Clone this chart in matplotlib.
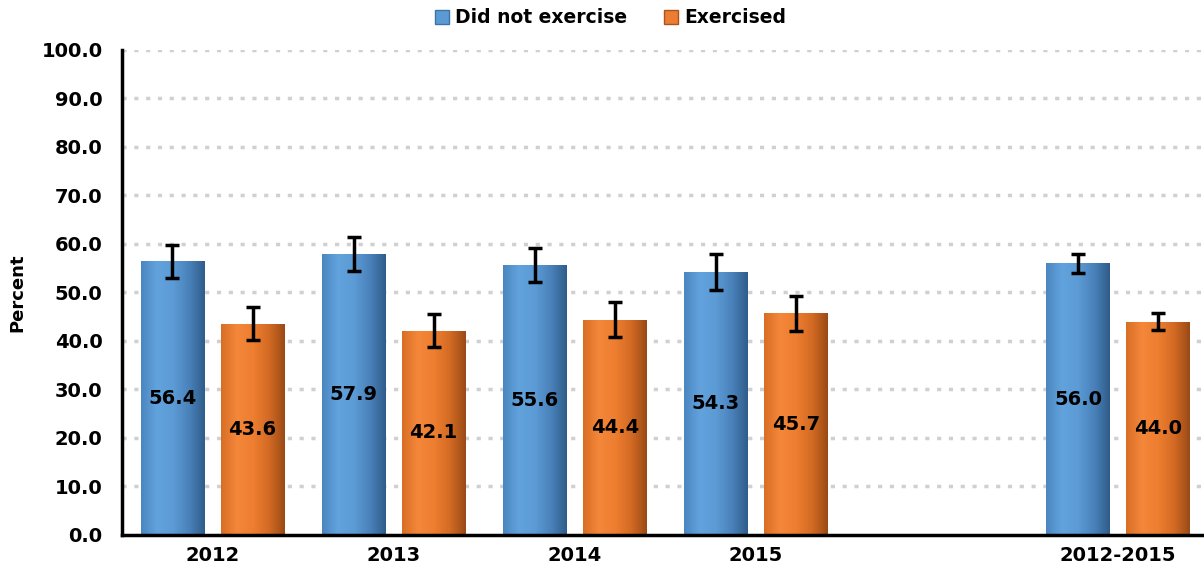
import numpy as np
import matplotlib
matplotlib.use("Agg")
import matplotlib.pyplot as plt
from matplotlib.colors import LinearSegmentedColormap
from matplotlib.patches import Patch

categories = ["2012", "2013", "2014", "2015", "", "2012-2015"]
did_not = [56.4, 57.9, 55.6, 54.3, np.nan, 56.0]
exercised = [43.6, 42.1, 44.4, 45.7, np.nan, 44.0]
did_not_err = [3.4, 3.5, 3.5, 3.7, np.nan, 1.9]
exercised_err = [3.4, 3.4, 3.6, 3.6, np.nan, 1.8]
series_names = ["Did not exercise", "Exercised"]

plt.rcParams['font.family'] = ['DejaVu Sans']

fig = plt.figure(figsize=(12.04, 5.79), dpi=100)
ax = fig.add_axes([0.1013, 0.076, 0.9025, 0.8377])

x = np.arange(len(categories))
w = 0.35
off = 0.221
blue = "#5B9BD5"
orange = "#ED7D31"
blue_cmap = LinearSegmentedColormap.from_list("b", ["#4a86c0", "#62a3dd", "#5c9bd5", "#4a82bb", "#2f5d8a"])
orange_cmap = LinearSegmentedColormap.from_list("o", ["#d86e25", "#f4873a", "#ee7e30", "#d46b24", "#9a4a16"])

b1 = ax.bar(x - off, did_not, w, color=blue, zorder=2)
b2 = ax.bar(x + off, exercised, w, color=orange, zorder=2)

grad = np.linspace(0, 1, 256).reshape(1, -1)
for bars, cmap in ((b1, blue_cmap), (b2, orange_cmap)):
    for p in bars:
        h = p.get_height()
        if not np.isfinite(h):
            continue
        x0 = p.get_x()
        im = ax.imshow(grad, cmap=cmap, aspect='auto',
                       extent=[x0, x0 + p.get_width(), 0, h], zorder=2.1)
        im.set_clip_path(p)

ax.errorbar(x - off, did_not, yerr=did_not_err, fmt='none', ecolor='black',
            elinewidth=2.5, capsize=5, capthick=2.5, zorder=3)
ax.errorbar(x + off, exercised, yerr=exercised_err, fmt='none', ecolor='black',
            elinewidth=2.5, capsize=5, capthick=2.5, zorder=3)

for xi, v in zip(x - off, did_not):
    if np.isfinite(v):
        ax.text(xi, v / 2, f"{v:.1f}", ha='center', va='center', fontsize=14,
                fontweight='bold', color='black', zorder=4)
for xi, v in zip(x + off, exercised):
    if np.isfinite(v):
        ax.text(xi, v / 2, f"{v:.1f}", ha='center', va='center', fontsize=14,
                fontweight='bold', color='black', zorder=4)

ax.set_ylim(0, 100)
ax.set_xlim(-0.5, 5.5)
ax.set_yticks(np.arange(0, 101, 10))
ax.set_yticklabels([f"{v:.1f}" for v in np.arange(0, 101, 10)], fontsize=14, fontweight='bold')
ax.set_xticks(x)
ax.set_xticklabels(categories, fontsize=14, fontweight='bold')
ax.tick_params(axis='y', length=0, pad=14)
ax.tick_params(axis='x', length=0, pad=8)
for gy in np.arange(10, 101, 10):
    ax.axhline(gy, color='#d0d0d0', linestyle=(0, (1.2, 2.2)), linewidth=2.5, zorder=1)

for s in ['top', 'right']:
    ax.spines[s].set_visible(False)
ax.spines['left'].set_linewidth(2.5)
ax.spines['bottom'].set_linewidth(2.5)
ax.set_ylabel("Percent", fontsize=13, fontweight='bold')
ax.yaxis.set_label_coords(-0.088, 0.5)

handles = [Patch(facecolor=blue, edgecolor='#3f73a6'), Patch(facecolor=orange, edgecolor='#a85420')]
fig.legend(handles, series_names, loc='center', bbox_to_anchor=(0.507, 0.969), ncol=2,
           frameon=False, prop={'weight': 'bold', 'size': 13.5}, handlelength=0.75,
           handleheight=0.75, handletextpad=0.3, columnspacing=2.0)

fig.savefig("out.png", dpi=100)
